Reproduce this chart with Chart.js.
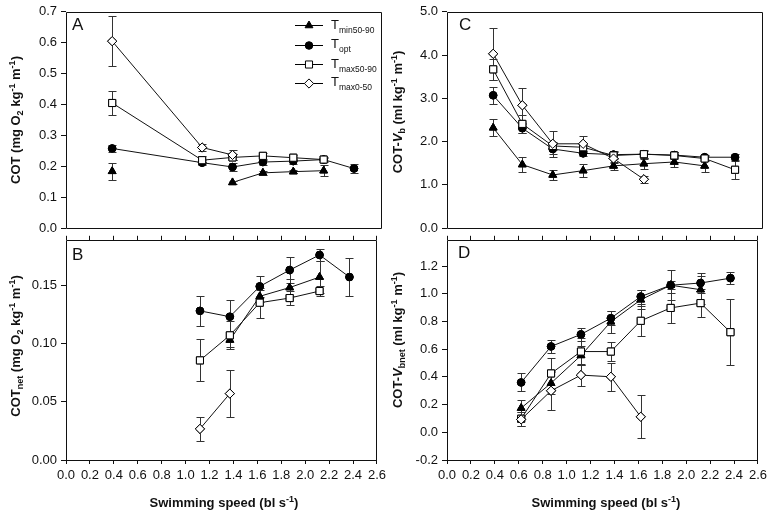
<!DOCTYPE html>
<html>
<head>
<meta charset="utf-8">
<script src="https://cdn.jsdelivr.net/npm/chart.js@4/dist/chart.umd.min.js"></script>
<style>
  body { margin: 0; background: #fff; }
  #wrap { position: relative; width: 773px; height: 513px; font-family: "Liberation Sans", Arial, sans-serif; color: #111; }
  .pane { position: absolute; }
  .ttl { position: absolute; font-weight: bold; font-size: 13px; white-space: nowrap; line-height: 14px; }
  .rot { transform: translate(-50%, -50%) rotate(-90deg); }
  .hor { transform: translate(-50%, -50%); }
  .ttl sub, .ttl sup { font-size: 9px; line-height: 0; }
  .ttl sup { vertical-align: 5px; }
  .ttl sub { vertical-align: -3px; }
  .letter { position: absolute; font-size: 17px; line-height: 17px; }
  .leg { position: absolute; font-size: 13px; line-height: 14px; white-space: nowrap; }
  .leg sub { font-size: 8.5px; vertical-align: -4px; line-height: 0; }
</style>
</head>
<body>
<div id="wrap">
  <div class="pane" style="left:0px;top:0px"><canvas id="cA" width="390" height="240"></canvas></div>
  <div class="pane" style="left:0px;top:228px"><canvas id="cB" width="390" height="285"></canvas></div>
  <div class="pane" style="left:381px;top:0px"><canvas id="cC" width="390" height="240"></canvas></div>
  <div class="pane" style="left:381px;top:228px"><canvas id="cD" width="390" height="285"></canvas></div>

  <div class="ttl rot" style="left:16px;top:120px">COT (mg O<sub>2</sub> kg<sup>-1</sup> m<sup>-1</sup>)</div>
  <div class="ttl rot" style="left:16px;top:346px">COT<sub>net</sub> (mg O<sub>2</sub> kg<sup>-1</sup> m<sup>-1</sup>)</div>
  <div class="ttl rot" style="left:398px;top:112px">COT-<i>V</i><sub>b</sub> (ml kg<sup>-1</sup> m<sup>-1</sup>)</div>
  <div class="ttl rot" style="left:398px;top:340px">COT-<i>V</i><sub>bnet</sub> (ml kg<sup>-1</sup> m<sup>-1</sup>)</div>
  <div class="ttl hor" style="left:224px;top:503px">Swimming speed (bl s<sup>-1</sup>)</div>
  <div class="ttl hor" style="left:606px;top:503px">Swimming speed (bl s<sup>-1</sup>)</div>

  <div class="letter" style="left:72px;top:16px">A</div>
  <div class="letter" style="left:72px;top:246px">B</div>
  <div class="letter" style="left:459px;top:16px">C</div>
  <div class="letter" style="left:458px;top:244px">D</div>

  <div class="leg" style="left:331px;top:18px">T<sub>min50-90</sub></div>
  <div class="leg" style="left:331px;top:37px">T<sub>opt</sub></div>
  <div class="leg" style="left:331px;top:57px">T<sub>max50-90</sub></div>
  <div class="leg" style="left:331px;top:75px">T<sub>max0-50</sub></div>
</div>

<script>
// swimming speeds (bl s-1) for each panel
const speedsA = [0.38, 1.12, 1.37, 1.62, 1.87, 2.12, 2.37];
const speedsB = [1.12, 1.37, 1.62, 1.87, 2.12, 2.37];
const speedsC = [0.38, 0.62, 0.87, 1.12, 1.37, 1.62, 1.87, 2.12, 2.37];
const speedsD = [0.62, 0.87, 1.12, 1.37, 1.62, 1.87, 2.12, 2.37];

// A: COT
const tminA = [0.184, null, 0.148, 0.179, 0.183, 0.186, null];
const tminA_se = [0.027, null, 0.006, 0.006, 0.006, 0.017, null];
const toptA = [0.258, 0.212, 0.198, 0.214, 0.217, 0.222, 0.193];
const toptA_se = [0.012, 0.008, 0.012, 0.008, 0.008, 0.006, 0.015];
const tmaxA = [0.405, 0.220, 0.229, 0.234, 0.228, 0.222, null];
const tmaxA_se = [0.038, 0.013, 0.010, 0.010, 0.008, 0.008, null];
const tmax0A = [0.605, 0.261, 0.237, null, null, null, null];
const tmax0A_se = [0.080, 0.010, 0.015, null, null, null, null];

// B: COTnet
const tminB = [null, 0.103, 0.1405, 0.148, 0.157, null];
const tminB_se = [null, 0.006, 0.005, 0.007, 0.014, null];
const toptB = [0.128, 0.123, 0.149, 0.163, 0.176, 0.157];
const toptB_se = [0.013, 0.014, 0.009, 0.011, 0.005, 0.016];
const tmaxB = [0.0855, 0.107, 0.135, 0.139, 0.145, null];
const tmaxB_se = [0.018, 0.012, 0.013, 0.006, 0.004, null];
const tmax0B = [0.0267, 0.057, null, null, null, null];
const tmax0B_se = [0.010, 0.020, null, null, null, null];

// C: COT-Vb
const tminC = [2.32, 1.47, 1.23, 1.33, 1.44, 1.49, 1.53, 1.44, null];
const tminC_se = [0.20, 0.17, 0.12, 0.15, 0.10, 0.13, 0.12, 0.14, null];
const toptC = [3.07, 2.31, 1.83, 1.73, 1.70, 1.71, 1.69, 1.64, 1.64];
const toptC_se = [0.20, 0.10, 0.12, 0.06, 0.08, 0.08, 0.07, 0.06, 0.08];
const tmaxC = [3.67, 2.41, 1.90, 1.87, 1.68, 1.71, 1.68, 1.61, 1.35];
const tmaxC_se = [0.25, 0.20, 0.10, 0.10, 0.08, 0.10, 0.07, 0.06, 0.22];
const tmax0C = [4.03, 2.84, 1.95, 1.95, 1.61, 1.13, null, null, null];
const tmax0C_se = [0.60, 0.40, 0.30, 0.17, 0.10, 0.08, null, null, null];

// D: COT-Vbnet
const toptD = [0.36, 0.62, 0.707, 0.824, 0.98, 1.062, 1.078, 1.113];
const toptD_se = [0.065, 0.05, 0.045, 0.05, 0.05, 0.11, 0.07, 0.045];
const tminD = [0.175, 0.355, 0.555, 0.798, 0.957, 1.062, 1.03, null];
const tminD_se = [0.055, 0.08, 0.07, 0.08, 0.07, 0.03, 0.10, null];
const tmaxD = [0.098, 0.425, 0.583, 0.583, 0.805, 0.898, 0.933, 0.723];
const tmaxD_se = [0.05, 0.11, 0.10, 0.07, 0.11, 0.11, 0.10, 0.24];
const tmax0D = [0.093, 0.30, 0.413, 0.401, 0.112, null, null, null];
const tmax0D_se = [0.05, 0.14, 0.08, 0.10, 0.155, null, null, null];

// tick labels
const xTicks = [0, 0.2, 0.4, 0.6, 0.8, 1.0, 1.2, 1.4, 1.6, 1.8, 2.0, 2.2, 2.4, 2.6];
const yTicksA = [0, 0.1, 0.2, 0.3, 0.4, 0.5, 0.6, 0.7];
const yTicksB = [0, 0.05, 0.10, 0.15];
const yTicksC = [0, 1, 2, 3, 4, 5];
const yTicksD = [-0.2, 0, 0.2, 0.4, 0.6, 0.8, 1.0, 1.2];

const styles = [
  { label: 'Tmin50-90', pointStyle: 'triangle', radius: 4.5, fill: '#000' },
  { label: 'Topt', pointStyle: 'circle', radius: 3.8, fill: '#000' },
  { label: 'Tmax50-90', pointStyle: 'rect', radius: 5, fill: '#fff' },
  { label: 'Tmax0-50', pointStyle: 'rectRot', radius: 4.6, fill: '#fff' }
];

// error bars + markers on top + box round the plot area
const errorBars = {
  id: 'errorBars',
  afterDatasetsDraw(chart) {
    const ctx = chart.ctx, ys = chart.scales.y;
    ctx.save();
    ctx.strokeStyle = '#333';
    ctx.lineWidth = 1;
    chart.data.datasets.forEach((ds, i) => {
      const meta = chart.getDatasetMeta(i);
      meta.data.forEach((pt, j) => {
        const v = ds.data[j].y, e = ds.errors[j];
        if (v == null || e == null) return;
        const x = Math.round(pt.x) + 0.5;
        const y1 = Math.round(ys.getPixelForValue(v + e)) + 0.5;
        const y2 = Math.round(ys.getPixelForValue(v - e)) + 0.5;
        ctx.beginPath();
        ctx.moveTo(x, y1); ctx.lineTo(x, y2);
        ctx.moveTo(x - 4, y1); ctx.lineTo(x + 4, y1);
        ctx.moveTo(x - 4, y2); ctx.lineTo(x + 4, y2);
        ctx.stroke();
      });
    });
    ctx.restore();
  },
  afterDraw(chart) {
    const ctx = chart.ctx;
    chart.data.datasets.forEach((ds, i) => {
      chart.getDatasetMeta(i).data.forEach((pt) => {
        if (!pt.skip) pt.draw(ctx, chart.chartArea);
      });
    });
    const a = chart.chartArea;
    const l = Math.round(a.left) + 0.5, r = Math.round(a.right) - 0.5;
    const t = Math.round(a.top) + 0.5, b = Math.round(a.bottom) + 0.5;
    ctx.save();
    ctx.strokeStyle = '#111';
    ctx.lineWidth = 1;
    ctx.beginPath();
    ctx.moveTo(l, t); ctx.lineTo(r, t); ctx.lineTo(r, b); ctx.lineTo(l, b); ctx.closePath();
    ctx.stroke();
    ctx.restore();
  }
};

function drawSymbol(ctx, st, x, y) {
  ctx.save();
  ctx.fillStyle = st.fill;
  ctx.strokeStyle = '#000';
  ctx.lineWidth = 1;
  ctx.beginPath();
  const r = st.radius;
  if (st.pointStyle === 'circle') {
    ctx.arc(x, y, r, 0, Math.PI * 2);
  } else if (st.pointStyle === 'triangle') {
    ctx.moveTo(x, y - r); ctx.lineTo(x + r * 0.87, y + r * 0.5); ctx.lineTo(x - r * 0.87, y + r * 0.5); ctx.closePath();
  } else if (st.pointStyle === 'rect') {
    const s = r * Math.SQRT1_2;
    ctx.rect(x - s, y - s, 2 * s, 2 * s);
  } else {
    ctx.moveTo(x, y - r); ctx.lineTo(x + r, y); ctx.lineTo(x, y + r); ctx.lineTo(x - r, y); ctx.closePath();
  }
  ctx.fill();
  ctx.stroke();
  ctx.restore();
}

const legendSymbols = {
  id: 'legendSymbols',
  afterDraw(chart) {
    const ctx = chart.ctx;
    const rows = [25, 45, 64, 83];
    styles.forEach((st, i) => {
      const y = rows[i] + 0.5;
      ctx.save();
      ctx.strokeStyle = '#000';
      ctx.lineWidth = 1;
      ctx.beginPath(); ctx.moveTo(295, y); ctx.lineTo(323, y); ctx.stroke();
      ctx.restore();
      drawSymbol(ctx, st, 309, y);
    });
  }
};

function makeDatasets(speeds, vals, errs) {
  return vals.map((v, k) => ({
    label: styles[k].label,
    data: speeds.map((x, i) => ({ x: x, y: v[i] })),
    errors: errs[k],
    borderColor: '#111',
    borderWidth: 1,
    pointStyle: styles[k].pointStyle,
    pointRadius: styles[k].radius,
    pointBackgroundColor: styles[k].fill,
    pointBorderColor: '#000',
    pointBorderWidth: 1,
    showLine: true,
    spanGaps: false,
    tension: 0
  }));
}

function makePanel(id, speeds, vals, errs, yMin, yMax, yTicks, digits, bottomPanel, extra) {
  const scales = {
    x: {
      type: 'linear', min: 0, max: 2.6, display: bottomPanel,
      afterBuildTicks: (s) => { s.ticks = xTicks.map(v => ({ value: v })); },
      ticks: { callback: (v) => v.toFixed(1), padding: 4, color: '#111', font: { size: 13, family: '"Liberation Sans", Arial' }, maxRotation: 0, autoSkip: false },
      grid: { drawOnChartArea: false, drawTicks: true, tickLength: 4, color: '#111' },
      border: { display: false }
    },
    y: {
      type: 'linear', min: yMin, max: yMax,
      afterBuildTicks: (s) => { s.ticks = yTicks.map(v => ({ value: v })); },
      afterFit: (s) => { s.width = 66; },
      ticks: { callback: (v) => v.toFixed(digits), padding: 4, color: '#111', font: { size: 13, family: '"Liberation Sans", Arial' } },
      grid: { drawOnChartArea: false, drawTicks: true, tickLength: 5, color: '#111' },
      border: { display: false }
    }
  };
  if (bottomPanel) {
    scales.x.afterFit = (s) => { s.height = 53; };
    scales.x2 = {
      type: 'linear', position: 'top', min: 0, max: 2.6,
      afterBuildTicks: (s) => { s.ticks = xTicks.map(v => ({ value: v })); },
      afterFit: (s) => { s.height = 5; },
      ticks: { display: false },
      grid: { drawOnChartArea: false, drawTicks: true, tickLength: 4, color: '#111' },
      border: { display: false }
    };
  }
  const plugins = [errorBars];
  if (extra) plugins.push(extra);
  return new Chart(document.getElementById(id), {
    type: 'scatter',
    data: { datasets: makeDatasets(speeds, vals, errs) },
    options: {
      responsive: false,
      animation: false,
      devicePixelRatio: 1,
      layout: { padding: bottomPanel ? { top: 0, right: 8, bottom: 0, left: 0 } : { top: 7, right: 8, bottom: 7, left: 0 } },
      plugins: { legend: { display: false }, tooltip: { enabled: false } },
      scales: scales
    },
    plugins: plugins
  });
}

makePanel('cA', speedsA, [tminA, toptA, tmaxA, tmax0A], [tminA_se, toptA_se, tmaxA_se, tmax0A_se],
  0, 0.7, yTicksA, 1, false, legendSymbols);
makePanel('cB', speedsB, [tminB, toptB, tmaxB, tmax0B], [tminB_se, toptB_se, tmaxB_se, tmax0B_se],
  0, 0.189, yTicksB, 2, true);
makePanel('cC', speedsC, [tminC, toptC, tmaxC, tmax0C], [tminC_se, toptC_se, tmaxC_se, tmax0C_se],
  0, 5, yTicksC, 1, false);
makePanel('cD', speedsD, [tminD, toptD, tmaxD, tmax0D], [tminD_se, toptD_se, tmaxD_se, tmax0D_se],
  -0.2, 1.39, yTicksD, 1, true);
</script>
</body>
</html>
